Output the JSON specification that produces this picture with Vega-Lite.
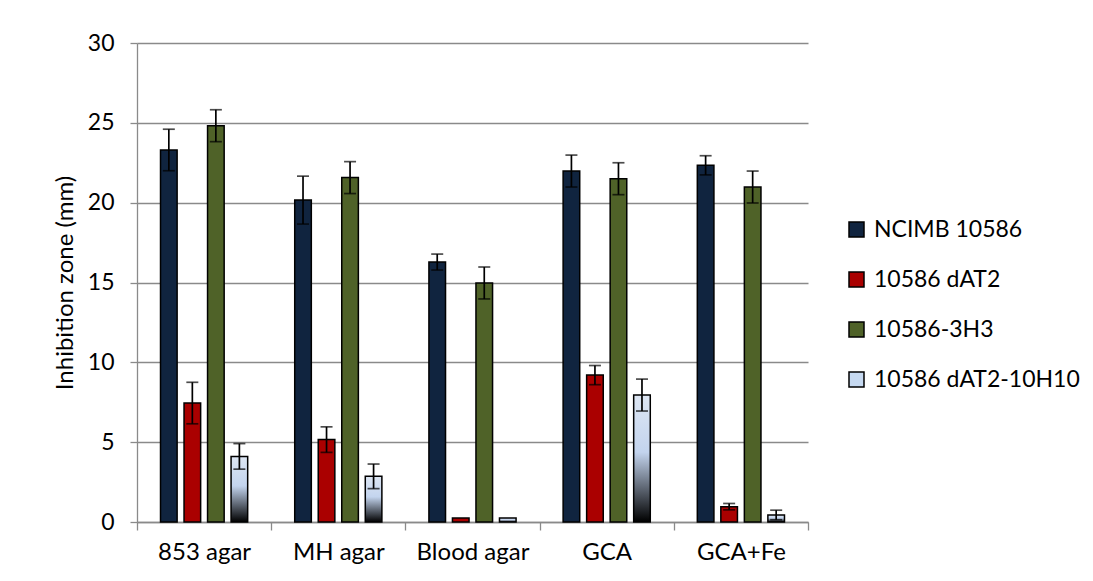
{
  "$schema": "https://vega.github.io/schema/vega-lite/v6.json",
  "width": 671,
  "height": 479,
  "autosize": "none",
  "padding": {"left": 137, "top": 43, "right": 285, "bottom": 59},
  "background": "white",
  "config": {
    "view": {"stroke": null},
    "font": "Lato",
    "axis": {"labelFont": "Lato", "titleFont": "Lato", "labelColor": "#000000", "titleColor": "#000000"}
  },
  "data": {
    "values": [
      {"medium": "853 agar", "strain": "NCIMB 10586", "zone": 23.3, "lo": 22.0, "hi": 24.6},
      {"medium": "853 agar", "strain": "10586 dAT2", "zone": 7.45, "lo": 6.15, "hi": 8.75},
      {"medium": "853 agar", "strain": "10586-3H3", "zone": 24.82, "lo": 23.82, "hi": 25.82},
      {"medium": "853 agar", "strain": "10586 dAT2-10H10", "zone": 4.11, "lo": 3.31, "hi": 4.91},
      {"medium": "MH agar", "strain": "NCIMB 10586", "zone": 20.16, "lo": 18.66, "hi": 21.66},
      {"medium": "MH agar", "strain": "10586 dAT2", "zone": 5.16, "lo": 4.36, "hi": 5.96},
      {"medium": "MH agar", "strain": "10586-3H3", "zone": 21.57, "lo": 20.57, "hi": 22.57},
      {"medium": "MH agar", "strain": "10586 dAT2-10H10", "zone": 2.86, "lo": 2.09, "hi": 3.63},
      {"medium": "Blood agar", "strain": "NCIMB 10586", "zone": 16.28, "lo": 15.78, "hi": 16.78},
      {"medium": "Blood agar", "strain": "10586 dAT2", "zone": 0.25, "lo": null, "hi": null},
      {"medium": "Blood agar", "strain": "10586-3H3", "zone": 14.97, "lo": 13.97, "hi": 15.97},
      {"medium": "Blood agar", "strain": "10586 dAT2-10H10", "zone": 0.25, "lo": null, "hi": null},
      {"medium": "GCA", "strain": "NCIMB 10586", "zone": 21.98, "lo": 20.98, "hi": 22.98},
      {"medium": "GCA", "strain": "10586 dAT2", "zone": 9.2, "lo": 8.6, "hi": 9.8},
      {"medium": "GCA", "strain": "10586-3H3", "zone": 21.5, "lo": 20.5, "hi": 22.5},
      {"medium": "GCA", "strain": "10586 dAT2-10H10", "zone": 7.95, "lo": 6.95, "hi": 8.95},
      {"medium": "GCA+Fe", "strain": "NCIMB 10586", "zone": 22.34, "lo": 21.74, "hi": 22.94},
      {"medium": "GCA+Fe", "strain": "10586 dAT2", "zone": 0.96, "lo": 0.76, "hi": 1.16},
      {"medium": "GCA+Fe", "strain": "10586-3H3", "zone": 20.98, "lo": 19.98, "hi": 21.98},
      {"medium": "GCA+Fe", "strain": "10586 dAT2-10H10", "zone": 0.44, "lo": 0.14, "hi": 0.74}
    ]
  },
  "encoding": {
    "x": {
      "field": "medium",
      "type": "nominal",
      "sort": ["853 agar", "MH agar", "Blood agar", "GCA", "GCA+Fe"],
      "scale": {"paddingInner": 0, "paddingOuter": 0},
      "axis": {
        "title": null,
        "labelAngle": 0,
        "labelFontSize": 24,
        "labelPadding": 10,
        "tickBand": "extent",
        "tickSize": 8,
        "tickColor": "#8A8A8A",
        "tickWidth": 1.3,
        "domainColor": "#8A8A8A",
        "domainWidth": 1.3,
        "grid": false
      }
    },
    "xOffset": {
      "field": "strain",
      "type": "nominal",
      "sort": ["NCIMB 10586", "10586 dAT2", "10586-3H3", "10586 dAT2-10H10"],
      "scale": {"paddingInner": 0.294, "paddingOuter": 1.05}
    }
  },
  "layer": [
    {
      "mark": {"type": "bar", "stroke": "#000000", "strokeWidth": 1.5},
      "encoding": {
        "y": {
          "field": "zone",
          "type": "quantitative",
          "scale": {"domain": [0, 30], "nice": false},
          "axis": {
            "title": "Inhibition zone (mm)",
            "titleFontSize": 24,
            "titleFontWeight": "normal",
            "titlePadding": 10,
            "values": [0, 5, 10, 15, 20, 25, 30],
            "labelFontSize": 23,
            "labelPadding": 16,
            "tickSize": 7,
            "tickColor": "#8A8A8A",
            "tickWidth": 1.3,
            "domainColor": "#8A8A8A",
            "domainWidth": 1.3,
            "grid": true,
            "gridColor": "#8A8A8A",
            "gridWidth": 1.3
          }
        },
        "color": {
          "condition": {
            "test": "datum.strain === '10586 dAT2-10H10'",
            "value": {
              "gradient": "linear",
              "x1": 0, "y1": 0, "x2": 0, "y2": 1,
              "stops": [
                {"offset": 0, "color": "#DDE6F3"},
                {"offset": 0.45, "color": "#C3D4EE"},
                {"offset": 1, "color": "#000000"}
              ]
            }
          },
          "field": "strain",
          "type": "nominal",
          "sort": ["NCIMB 10586", "10586 dAT2", "10586-3H3", "10586 dAT2-10H10"],
          "scale": {
            "domain": ["NCIMB 10586", "10586 dAT2", "10586-3H3", "10586 dAT2-10H10"],
            "range": ["#10243F", "#AA0000", "#4F6228", "#C6D9F1"]
          },
          "legend": {
            "title": null,
            "orient": "none",
            "legendX": 708,
            "legendY": 175,
            "padding": 0,
            "symbolType": "square",
            "symbolSize": 225,
            "symbolStrokeColor": "#000000",
            "symbolStrokeWidth": 1.5,
            "symbolOpacity": 1,
            "labelFont": "Lato",
            "labelFontSize": 23,
            "labelColor": "#000000",
            "labelOffset": 6,
            "labelLimit": 400,
            "rowPadding": 26
          }
        }
      }
    },
    {
      "mark": {"type": "rule", "color": "#000000", "strokeWidth": 1.7},
      "encoding": {
        "y": {"field": "lo", "type": "quantitative"},
        "y2": {"field": "hi"}
      }
    },
    {
      "mark": {"type": "tick", "orient": "horizontal", "color": "#000000", "thickness": 1.7, "size": 12},
      "encoding": {
        "y": {"field": "lo", "type": "quantitative"}
      }
    },
    {
      "mark": {"type": "tick", "orient": "horizontal", "color": "#000000", "thickness": 1.7, "size": 12},
      "encoding": {
        "y": {"field": "hi", "type": "quantitative"}
      }
    }
  ]
}
